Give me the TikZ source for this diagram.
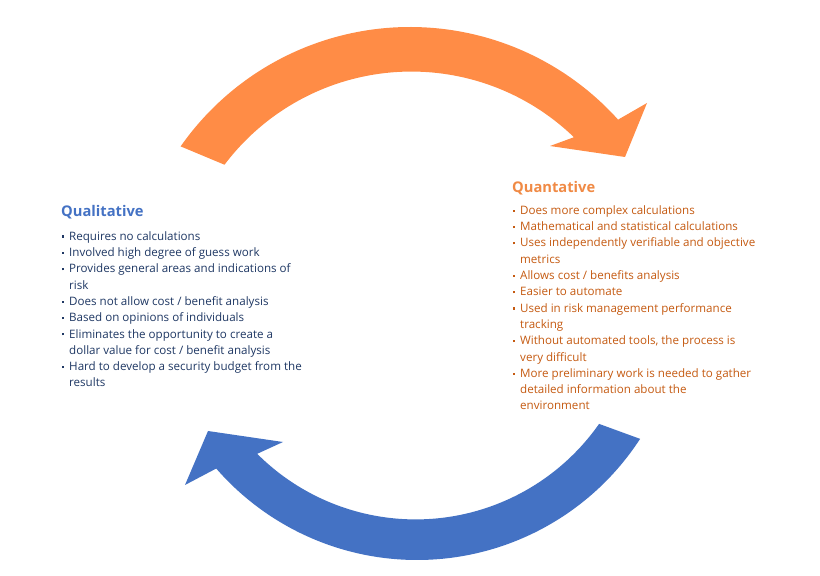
\documentclass[tikz,border=0pt]{standalone}
\usepackage{fontspec}
\setmainfont{Open Sans}
\usepackage{xcolor}
\usepackage{tikz}
\usetikzlibrary{calc, positioning}

\definecolor{arroworange}{HTML}{FF8C46}
\definecolor{arrowblue}{HTML}{4472C4}
\definecolor{qualtitle}{HTML}{4472C4}
\definecolor{qualtext}{HTML}{1F3864}
\definecolor{quantitle}{HTML}{F08A45}
\definecolor{quantext}{HTML}{C55A11}

\newcommand{\bul}{\makebox[7pt][l]{\rule[2.6pt]{2.2pt}{2.2pt}}}
\newcommand{\cont}{\hspace*{7pt}}

\begin{document}
\begin{tikzpicture}[x=1pt, y=1pt,
    title/.style={anchor=base west, inner sep=0pt, font=\fontsize{14.7}{16}\selectfont\bfseries},
    itemlist/.style={anchor=base west, inner sep=0pt, align=left, font=\fontsize{11.6}{16.3}\selectfont}]
  \fill[white] (0,0) rectangle (820,576);
  \useasboundingbox (0,0) rectangle (820,576);

  % centres of the two curved arrows
  \coordinate (topc) at (410,269);
  \coordinate (botc) at (417,282);

  % orange arrow, left to right over the top
  \fill[arroworange] ([shift={(145:280)}]topc) arc[start angle=145, end angle=42, radius=280]
    -- (647,473) -- (625,419) -- (550,430)
    -- ([shift={(46:236)}]topc) arc[start angle=46, end angle=143, radius=234] -- cycle;

  % blue arrow, right to left under the bottom
  \fill[arrowblue] ([shift={(-33:266)}]botc) arc[start angle=-33, end angle=-139, radius=266]
    -- (185,91) -- (208,145) -- (283,134)
    -- ([shift={(225:226)}]botc) arc[start angle=225, end angle=325, radius=224] -- cycle;

  % qualitative side
  \node[title, text=qualtitle] (quali) at (61,359) {Qualitative};
  \node[itemlist, text=qualtext] (qualist) at (62,189) {%
    \bul Requires no calculations\\
    \bul Involved high degree of guess work\\
    \bul Provides general areas and indications of\\
    \cont risk\\
    \bul Does not allow cost / benefit analysis\\
    \bul Based on opinions of individuals\\
    \bul Eliminates the opportunity to create a\\
    \cont dollar value for cost / benefit analysis\\
    \bul Hard to develop a security budget from the\\
    \cont results};

  % quantative side
  \node[title, text=quantitle] (quanti) at (512,383) {Quantative};
  \node[itemlist, text=quantext] (quantlist) at (513,166) {%
    \bul Does more complex calculations\\
    \bul Mathematical and statistical calculations\\
    \bul Uses independently verifiable and objective\\
    \cont metrics\\
    \bul Allows cost / benefits analysis\\
    \bul Easier to automate\\
    \bul Used in risk management performance\\
    \cont tracking\\
    \bul Without automated tools, the process is\\
    \cont very difficult\\
    \bul More preliminary work is needed to gather\\
    \cont detailed information about the\\
    \cont environment};
\end{tikzpicture}
\end{document}
